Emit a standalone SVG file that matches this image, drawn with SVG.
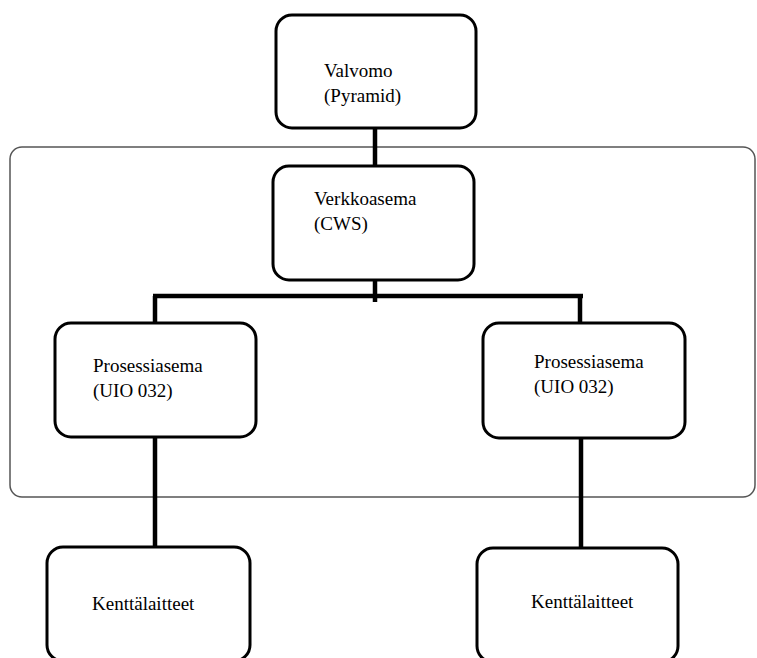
<svg xmlns="http://www.w3.org/2000/svg" width="757" height="658" viewBox="0 0 757 658">
<style>
.box{fill:#fff;stroke:#000;stroke-width:3}
.conn{stroke:#000;stroke-width:4.5;fill:none}
text{font-family:'Liberation Serif','DejaVu Serif',serif;font-size:19px;fill:#000}
</style>
<rect width="757" height="658" fill="#fff"/>
<rect id="container" x="10" y="147" width="745" height="350" rx="12" fill="none" stroke="#555" stroke-width="1.5"/>
<g id="connectors">
<line class="conn" x1="375" y1="128" x2="375" y2="168"/>
<line class="conn" x1="375" y1="279" x2="375" y2="302"/>
<line class="conn" x1="153" y1="296" x2="583" y2="296"/>
<line class="conn" x1="155" y1="296" x2="155" y2="324"/>
<line class="conn" x1="580" y1="296" x2="580" y2="324"/>
<line class="conn" x1="155" y1="436" x2="155" y2="549"/>
<line class="conn" x1="581" y1="437" x2="581" y2="550"/>
</g>
<g id="valvomo">
<rect class="box" x="276" y="15" width="200" height="113" rx="16"/>
<text x="324" y="77" font-family="Liberation Serif, serif">Valvomo</text>
<text x="324" y="102" font-family="Liberation Serif, serif">(Pyramid)</text>
</g>
<g id="verkkoasema">
<rect class="box" x="273" y="166" width="201" height="114" rx="16"/>
<text x="314" y="205" font-family="Liberation Serif, serif">Verkkoasema</text>
<text x="314" y="230" font-family="Liberation Serif, serif">(CWS)</text>
</g>
<g id="prosessiasema1">
<rect class="box" x="55" y="323" width="201" height="114" rx="16"/>
<text x="93" y="372" font-family="Liberation Serif, serif">Prosessiasema</text>
<text x="93" y="397" font-family="Liberation Serif, serif">(UIO 032)</text>
</g>
<g id="prosessiasema2">
<rect class="box" x="483" y="323" width="202" height="115" rx="16"/>
<text x="534" y="368" font-family="Liberation Serif, serif">Prosessiasema</text>
<text x="534" y="393" font-family="Liberation Serif, serif">(UIO 032)</text>
</g>
<g id="kenttalaitteet1">
<rect class="box" x="47" y="547" width="203" height="114" rx="16"/>
<text x="92" y="610" font-family="Liberation Serif, serif">Kenttälaitteet</text>
</g>
<g id="kenttalaitteet2">
<rect class="box" x="477" y="548" width="201" height="114" rx="16"/>
<text x="531" y="608" font-family="Liberation Serif, serif">Kenttälaitteet</text>
</g>
</svg>
